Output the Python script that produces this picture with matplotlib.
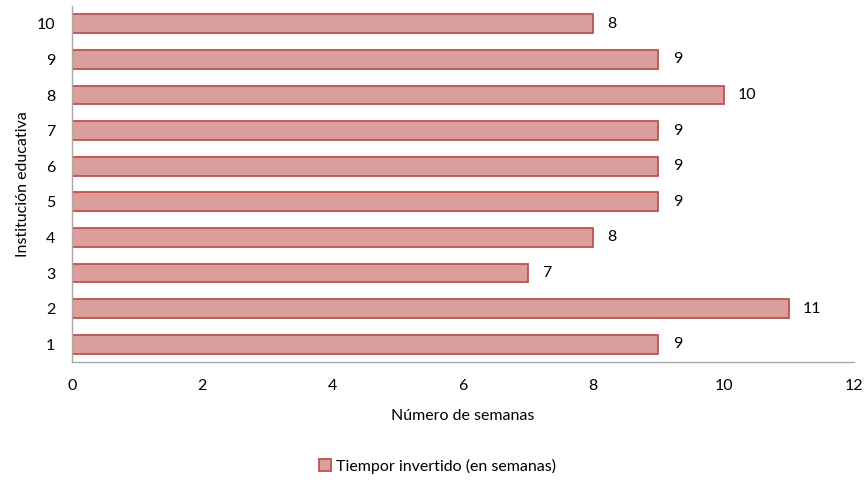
import matplotlib
matplotlib.use("Agg")
import matplotlib.pyplot as plt

plt.rcParams['font.family'] = ['Lato', 'DejaVu Sans']

instituciones = ['1', '2', '3', '4', '5', '6', '7', '8', '9', '10']
semanas = [9, 11, 7, 8, 9, 9, 9, 10, 9, 8]
serie = 'Tiempor invertido (en semanas)'

FS = 11.5

fig = plt.figure(figsize=(8.67, 4.83), dpi=100)
ax = fig.add_axes([0.083, 0.2505, 0.902, 0.737])

pos = list(range(len(instituciones)))
bars = ax.barh(pos, semanas, height=0.53, color='#DA9E9C', edgecolor='#C0504D',
               linewidth=1.3, label=serie)
for p, v in zip(pos, semanas):
    ax.text(v + 0.22, p, str(v), va='center', ha='left', fontsize=FS, color='#000000')

ax.set_xlim(0, 12)
ax.set_ylim(-0.5, len(instituciones) - 0.5)
ax.set_yticks(pos)
ax.set_yticklabels(instituciones)
ax.set_xticks([0, 2, 4, 6, 8, 10, 12])
ax.tick_params(axis='both', length=0, labelsize=FS)
ax.tick_params(axis='y', pad=12)
ax.tick_params(axis='x', pad=12)
for s in ['top', 'right']:
    ax.spines[s].set_visible(False)
for s in ['left', 'bottom']:
    ax.spines[s].set_color('#A8A8A8')
    ax.spines[s].set_linewidth(1.0)

ax.set_xlabel('Número de semanas', fontsize=FS, labelpad=12)
ax.set_ylabel('Institución educativa', fontsize=FS, labelpad=5)

fig.legend(handles=[bars], labels=[serie], loc='center', bbox_to_anchor=(0.505, 0.035),
           frameon=False, fontsize=FS, handlelength=0.75, handleheight=0.75,
           handletextpad=0.3)

fig.savefig('out.png', dpi=100)
